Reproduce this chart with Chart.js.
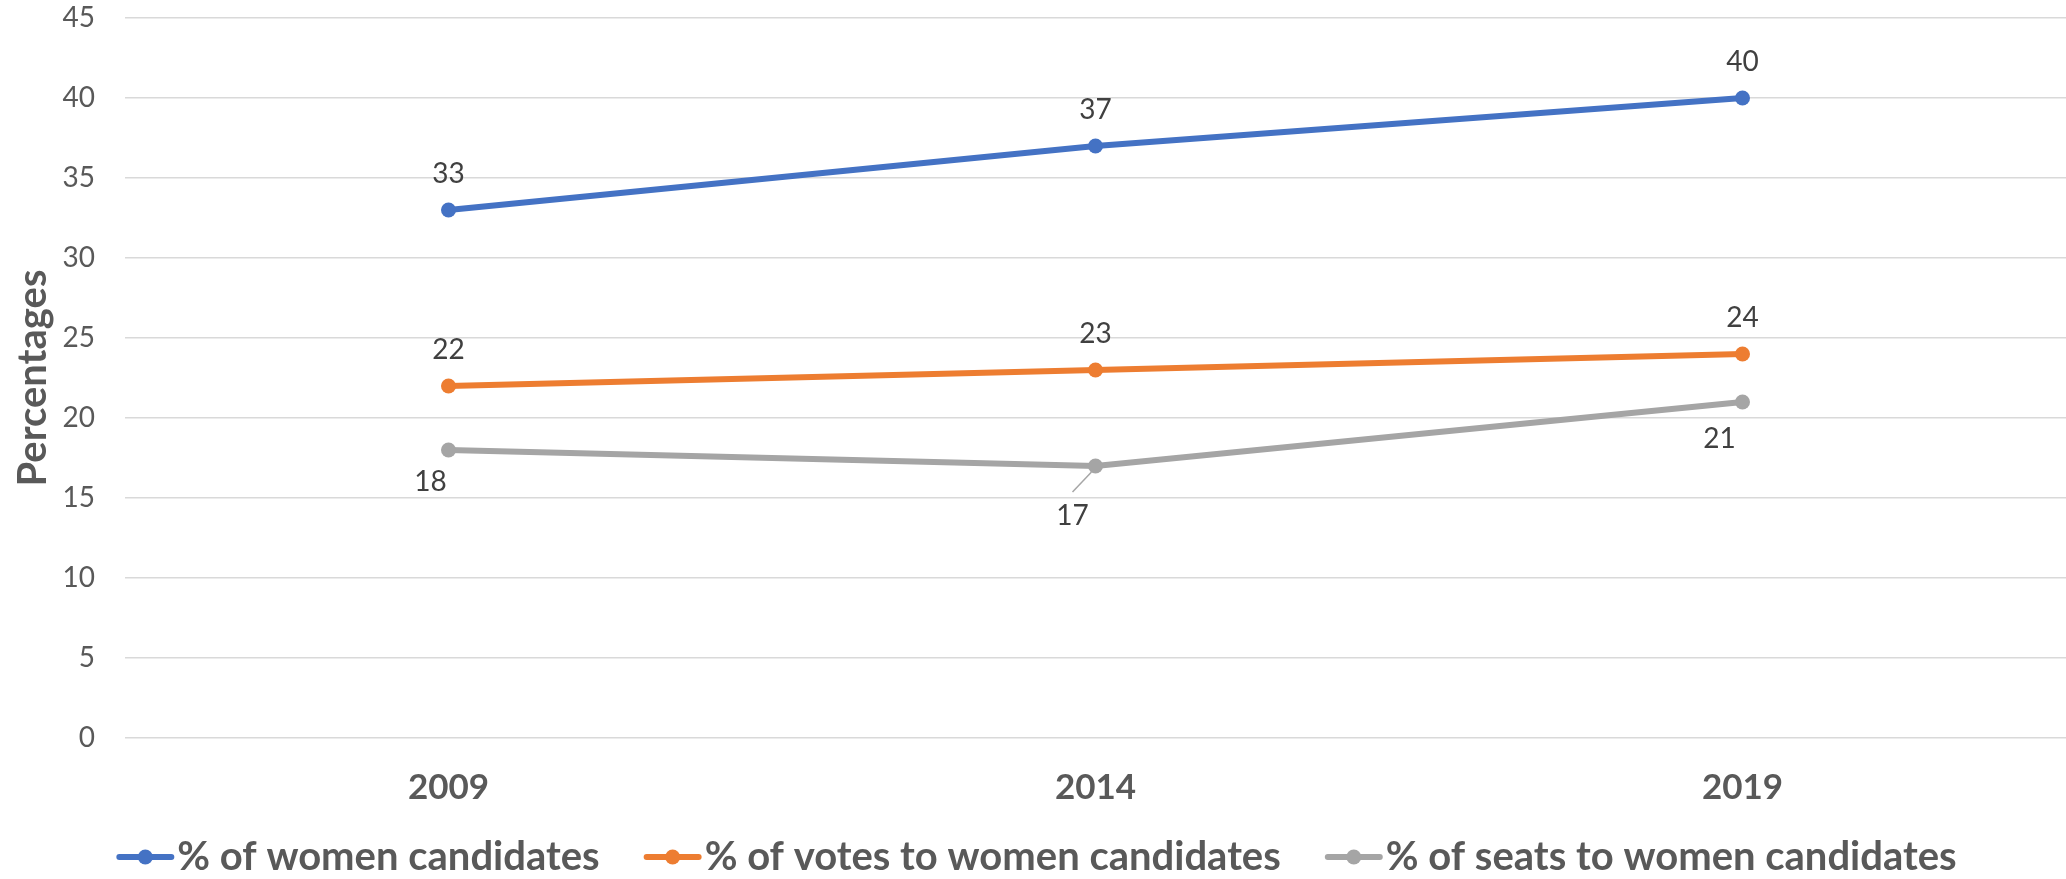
<!DOCTYPE html>
<html>
<head>
<meta charset="utf-8">
<script src="https://cdn.jsdelivr.net/npm/chart.js@4/dist/chart.umd.min.js"></script>
<style>
  html, body { margin: 0; padding: 0; background: #ffffff; }
  #wrap { width: 2066px; height: 879px; position: relative; }
</style>
</head>
<body>
<div id="wrap"><canvas id="chart" width="2066" height="879"></canvas></div>
<script>
// Election years on the category axis
const years = ['2009', '2014', '2019'];

// Series values (percentages)
const womenCandidates = [33, 37, 40];
const votesToWomen = [22, 23, 24];
const seatsToWomen = [18, 17, 21];

// Series names
const seriesNames = [
  '% of women candidates',
  '% of votes to women candidates',
  '% of seats to women candidates'
];

// Value axis range
const yMin = 0;
const yMax = 45;
const yStep = 5;

const axisTitle = 'Percentages';

// Styling
const COLORS = ['#4472C4', '#ED7D31', '#A5A5A5'];
const FONT = 'Lato, "Liberation Sans", Arial, sans-serif';
const TEXT_GREY = '#595959';
const LABEL_GREY = '#404040';

// Where each value label sits relative to its point (pixels)
const labelOffsets = [
  [{ dx: 0, dy: -36 }, { dx: 0, dy: -36 }, { dx: 0, dy: -36 }],
  [{ dx: 0, dy: -36 }, { dx: 0, dy: -36 }, { dx: 0, dy: -36 }],
  [{ dx: -18, dy: 32 }, { dx: -23, dy: 50, leader: true }, { dx: -23, dy: 37 }]
];

// Value labels next to each point
const valueLabelPlugin = {
  id: 'valueLabels',
  afterDatasetsDraw(chart) {
    const ctx = chart.ctx;
    ctx.save();
    ctx.font = '28px ' + FONT;
    ctx.fillStyle = LABEL_GREY;
    ctx.textAlign = 'center';
    ctx.textBaseline = 'middle';
    chart.data.datasets.forEach((ds, di) => {
      const meta = chart.getDatasetMeta(di);
      meta.data.forEach((pt, i) => {
        const off = labelOffsets[di][i];
        const lx = pt.x + off.dx;
        const ly = pt.y + off.dy;
        if (off.leader) {
          ctx.strokeStyle = '#A6A6A6';
          ctx.lineWidth = 1.5;
          ctx.beginPath();
          ctx.moveTo(lx, ly - 24);
          ctx.lineTo(pt.x - 4, pt.y + 6);
          ctx.stroke();
        }
        ctx.fillText(String(ds.data[i]), lx, ly);
      });
    });
    ctx.restore();
  }
};

// Legend row: short line with a dot, followed by the series name
const legendRowPlugin = {
  id: 'legendRow',
  afterDraw(chart) {
    const ctx = chart.ctx;
    ctx.save();
    ctx.font = 'bold 40px ' + FONT;
    const lineW = 56, textGap = 4, itemGap = 45;
    const widths = chart.data.datasets.map(ds => ctx.measureText(ds.label).width);
    const total = widths.reduce((s, w) => s + lineW + textGap + w, 0) + itemGap * (widths.length - 1);
    let x = 1037 - total / 2;
    const y = 857;
    chart.data.datasets.forEach((ds, i) => {
      ctx.strokeStyle = ds.borderColor;
      ctx.lineWidth = 6;
      ctx.lineCap = 'round';
      ctx.beginPath();
      ctx.moveTo(x + 2, y);
      ctx.lineTo(x + lineW - 2, y);
      ctx.stroke();
      ctx.fillStyle = ds.borderColor;
      ctx.beginPath();
      ctx.arc(x + lineW / 2, y, 7.5, 0, Math.PI * 2);
      ctx.fill();
      ctx.fillStyle = TEXT_GREY;
      ctx.textAlign = 'left';
      ctx.textBaseline = 'middle';
      ctx.fillText(ds.label, x + lineW + textGap, y);
      x += lineW + textGap + widths[i] + itemGap;
    });
    ctx.restore();
  }
};

const makeSeries = (label, data, color) => ({
  label,
  data,
  borderColor: color,
  backgroundColor: color,
  borderWidth: 6,
  pointRadius: 7.5,
  pointHoverRadius: 7.5,
  pointBorderWidth: 0,
  pointBackgroundColor: color,
  tension: 0,
  fill: false,
  clip: false
});

new Chart(document.getElementById('chart'), {
  type: 'line',
  data: {
    labels: years,
    datasets: [
      makeSeries(seriesNames[0], womenCandidates, COLORS[0]),
      makeSeries(seriesNames[1], votesToWomen, COLORS[1]),
      makeSeries(seriesNames[2], seatsToWomen, COLORS[2])
    ]
  },
  options: {
    responsive: false,
    devicePixelRatio: 1,
    animation: false,
    // plot area runs slightly past the right edge of the canvas
    layout: { autoPadding: false, padding: { top: 18, right: -3, bottom: 0, left: 0 } },
    plugins: {
      legend: { display: false },
      tooltip: { enabled: false }
    },
    scales: {
      x: {
        offset: true,
        grid: { display: false },
        border: { display: false },
        ticks: {
          font: { family: FONT, size: 35, weight: 'bold' },
          color: TEXT_GREY,
          padding: 21
        },
        afterFit(scale) {
          scale.height = 141;
          scale.paddingLeft = 0;
          scale.paddingRight = 0;
        }
      },
      y: {
        min: yMin,
        max: yMax,
        ticks: {
          stepSize: yStep,
          font: { family: FONT, size: 28 },
          color: TEXT_GREY,
          padding: 30
        },
        grid: { color: '#D9D9D9', lineWidth: 1.5, drawTicks: false },
        border: { display: false },
        title: {
          display: true,
          text: axisTitle,
          font: { family: FONT, size: 40, weight: 'bold' },
          color: TEXT_GREY,
          padding: { top: 9, bottom: 0 }
        },
        afterFit(scale) {
          scale.width = 125;
          scale.paddingTop = 0;
          scale.paddingBottom = 0;
        }
      }
    }
  },
  plugins: [valueLabelPlugin, legendRowPlugin]
});
</script>
</body>
</html>
